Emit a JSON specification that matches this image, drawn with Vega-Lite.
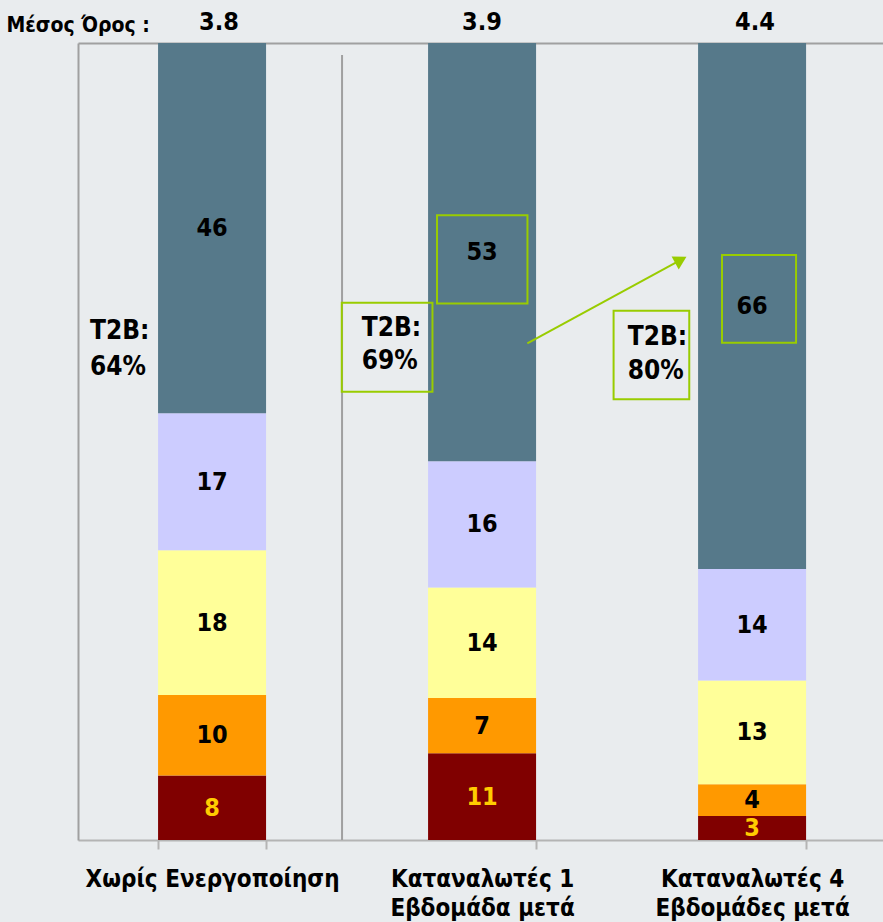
{
  "$schema": "https://vega.github.io/schema/vega-lite/v6.json",
  "width": 805,
  "height": 797,
  "autosize": {"type": "none"},
  "padding": {"left": 78, "top": 43, "right": 0, "bottom": 82},
  "config": {"background": "#E9ECEE", "view": {"stroke": null}, "font": "DejaVu Sans Condensed, DejaVu Sans"},
  "datasets": {
    "bars": [
      {"cat": "Χωρίς Ενεργοποίηση", "level": 1, "value": 8},
      {"cat": "Χωρίς Ενεργοποίηση", "level": 2, "value": 10},
      {"cat": "Χωρίς Ενεργοποίηση", "level": 3, "value": 18},
      {"cat": "Χωρίς Ενεργοποίηση", "level": 4, "value": 17},
      {"cat": "Χωρίς Ενεργοποίηση", "level": 5, "value": 46},
      {"cat": "Καταναλωτές 1|Εβδομάδα μετά", "level": 1, "value": 11},
      {"cat": "Καταναλωτές 1|Εβδομάδα μετά", "level": 2, "value": 7},
      {"cat": "Καταναλωτές 1|Εβδομάδα μετά", "level": 3, "value": 14},
      {"cat": "Καταναλωτές 1|Εβδομάδα μετά", "level": 4, "value": 16},
      {"cat": "Καταναλωτές 1|Εβδομάδα μετά", "level": 5, "value": 53},
      {"cat": "Καταναλωτές 4|Εβδομάδες μετά", "level": 1, "value": 3},
      {"cat": "Καταναλωτές 4|Εβδομάδες μετά", "level": 2, "value": 4},
      {"cat": "Καταναλωτές 4|Εβδομάδες μετά", "level": 3, "value": 13},
      {"cat": "Καταναλωτές 4|Εβδομάδες μετά", "level": 4, "value": 14},
      {"cat": "Καταναλωτές 4|Εβδομάδες μετά", "level": 5, "value": 66}
    ],
    "boxes": [
      {"x": 1.338, "x2": 1.675, "y": 0.784, "y2": 0.673},
      {"x": 2.4, "x2": 2.676, "y": 0.734, "y2": 0.624},
      {"x": 0.983, "x2": 1.321, "y": 0.674, "y2": 0.5625},
      {"x": 1.996, "x2": 2.278, "y": 0.664, "y2": 0.553}
    ],
    "arrow": [
      {"x": 1.6745, "y": 0.6232, "o": 1},
      {"x": 2.2465, "y": 0.7279, "o": 2}
    ],
    "head": [{"x": 2.2465, "y": 0.7279}],
    "divider": [{"x": 0.984, "y": 0.985, "y2": 0}],
    "t2b": [
      {"x": 0.0447, "y": 0.6386, "t": "T2B:"},
      {"x": 0.0447, "y": 0.5935, "t": "64%"},
      {"x": 1.0573, "y": 0.6424, "t": "T2B:"},
      {"x": 1.0573, "y": 0.601, "t": "69%"},
      {"x": 2.0486, "y": 0.6314, "t": "T2B:"},
      {"x": 2.0486, "y": 0.589, "t": "80%"}
    ],
    "means": [
      {"x": 0.5255, "y": 1.0264, "t": "3.8"},
      {"x": 1.5056, "y": 1.0264, "t": "3.9"},
      {"x": 2.523, "y": 1.0264, "t": "4.4"}
    ],
    "mlabel": [{"x": 0.268, "y": 1.0213, "t": "Μέσος Όρος :"}]
  },
  "layer": [
    {
      "data": {"name": "bars"},
      "transform": [
        {"stack": "value", "groupby": ["cat"], "sort": [{"field": "level", "order": "ascending"}], "as": ["v0", "v1"], "offset": "normalize"},
        {"calculate": "(datum.v0 + datum.v1) / 2", "as": "vm"}
      ],
      "encoding": {
        "x": {
          "field": "cat", "type": "nominal", "sort": null,
          "scale": {"paddingInner": 0.6, "paddingOuter": 0.2907, "align": 0.51},
          "axis": {
            "title": null, "domainColor": "#B4B4B4", "domainWidth": 2,
            "tickBand": "extent", "tickSize": 9, "tickColor": "#B4B4B4", "tickWidth": 2,
            "labelAngle": 0, "labelFontSize": 24, "labelFontWeight": "bold", "labelColor": "#000000",
            "labelExpr": "split(datum.label, '|')", "labelLineHeight": 29, "labelPadding": 18,
            "labelLimit": 400, "labelBaseline": "top"
          }
        }
      },
      "layer": [
        {
          "mark": {"type": "bar"},
          "encoding": {
            "y": {"field": "v0", "type": "quantitative", "scale": {"domain": [0, 1], "nice": false},
              "axis": {"domain": true, "domainColor": "#A0A0A0", "domainWidth": 2, "labels": false, "ticks": false, "grid": false, "title": null}},
            "y2": {"field": "v1"},
            "color": {"field": "level", "type": "ordinal",
              "scale": {"domain": [1, 2, 3, 4, 5], "range": ["#800000", "#FF9900", "#FFFF99", "#CCCCFF", "#56798A"]},
              "legend": null}
          }
        },
        {
          "mark": {"type": "text", "fontSize": 25, "fontWeight": "bold", "baseline": "middle", "align": "center"},
          "encoding": {
            "y": {"field": "vm", "type": "quantitative", "scale": {"domain": [0, 1], "nice": false},
              "axis": {"domain": true, "domainColor": "#A0A0A0", "domainWidth": 2, "labels": false, "ticks": false, "grid": false, "title": null}},
            "text": {"field": "value", "type": "quantitative"},
            "color": {"condition": {"test": "datum.level == 1", "value": "#FFCC00"}, "value": "#000000"}
          }
        }
      ]
    },
    {
      "encoding": {
        "x": {"field": "x", "type": "quantitative", "scale": {"domain": [0, 3], "nice": false, "zero": false},
          "axis": {"orient": "top", "labels": false, "ticks": false, "grid": false, "title": null, "domainColor": "#A0A0A0", "domainWidth": 2}},
        "y": {"field": "y", "type": "quantitative", "scale": {"domain": [0, 1], "nice": false},
          "axis": {"domain": true, "domainColor": "#A0A0A0", "domainWidth": 2, "labels": false, "ticks": false, "grid": false, "title": null}}
      },
      "layer": [
        {
          "data": {"name": "divider"},
          "mark": {"type": "rule", "color": "#A0A0A0", "strokeWidth": 2},
          "encoding": {"y2": {"field": "y2"}}
        },
        {
          "data": {"name": "boxes"},
          "mark": {"type": "rect", "fillOpacity": 0, "stroke": "#99CC00", "strokeWidth": 2},
          "encoding": {"x2": {"field": "x2"}, "y2": {"field": "y2"}}
        },
        {
          "data": {"name": "arrow"},
          "mark": {"type": "line", "color": "#99CC00", "strokeWidth": 2},
          "encoding": {"order": {"field": "o", "type": "quantitative"}}
        },
        {
          "data": {"name": "head"},
          "mark": {"type": "point", "shape": "triangle-up", "filled": true, "color": "#99CC00", "opacity": 1, "size": 220, "angle": 61.5},
          "encoding": {}
        },
        {
          "data": {"name": "t2b"},
          "mark": {"type": "text", "fontSize": 26, "fontWeight": "bold", "align": "left", "baseline": "middle", "color": "#000000"},
          "encoding": {"text": {"field": "t"}}
        },
        {
          "data": {"name": "means"},
          "mark": {"type": "text", "fontSize": 25, "fontWeight": "bold", "align": "center", "baseline": "middle", "color": "#000000"},
          "encoding": {"text": {"field": "t"}}
        },
        {
          "data": {"name": "mlabel"},
          "mark": {"type": "text", "fontSize": 21, "fontWeight": "bold", "align": "right", "baseline": "middle", "color": "#000000"},
          "encoding": {"text": {"field": "t"}}
        }
      ]
    }
  ],
  "resolve": {"scale": {"x": "independent"}, "axis": {"x": "independent"}}
}
